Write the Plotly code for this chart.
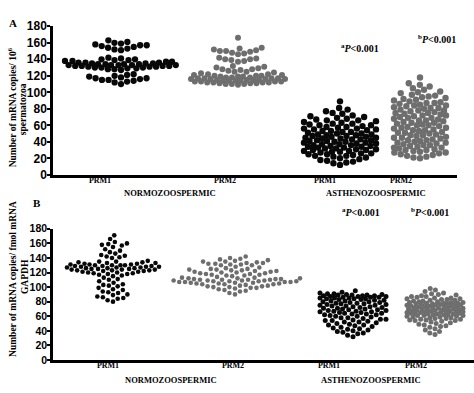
import math
import plotly.graph_objects as go

# ---------------- data ----------------
groups = ["PRM1", "PRM2", "PRM1", "PRM2"]
conditions = ["NORMOZOOSPERMIC", "ASTHENOZOOSPERMIC"]
y_ticks = [0, 20, 40, 60, 80, 100, 120, 140, 160, 180]
p_labels = ["<sup>a</sup><i>P</i>&lt;0.001", "<sup>b</sup><i>P</i>&lt;0.001"]

# Panel A: copies / 10^6 spermatozoa
a_normo_prm1 = [163, 161, 160, 159, 158, 157, 157, 156, 155, 154, 153, 152, 151,
                142, 141, 140, 140, 139, 139, 138, 138, 137, 137, 136, 136, 136, 135, 135,
                135, 134, 134, 134, 134, 133, 133, 133, 133, 133, 132, 132, 132, 132, 131,
                131, 131, 130, 130, 130, 129, 129, 128, 128, 127,
                122, 121, 120, 119, 118, 117, 117, 116, 115, 115, 114, 113, 112, 110]
a_normo_prm2 = [166,
                154, 153, 152, 151, 150, 150, 149, 148, 147, 146,
                142, 141, 140, 140, 139, 138, 137,
                132, 131, 130, 129, 128, 128, 127, 126, 125, 125, 124, 123, 122, 122, 121, 121,
                120, 120, 120, 119, 119, 119, 118, 118, 118, 117, 117, 117, 117, 116, 116,
                116, 116, 115, 115, 115, 115, 114, 114, 114, 114, 113, 113, 113, 113, 112,
                112, 112, 112, 111, 111, 111, 110, 110, 110, 109]
a_astheno_prm1 = [89, 81, 79, 77, 75, 74, 72, 71, 70, 69, 68, 67, 66, 66, 65, 64, 63, 62,
                  62, 61, 60, 60, 59, 58, 58, 57, 56, 56, 55, 55, 54, 53, 53, 52, 52, 51,
                  50, 50, 49, 49, 48, 48, 47, 47, 46, 46, 45, 45, 44, 44, 43, 43, 42, 42,
                  41, 41, 40, 40, 39, 39, 38, 38, 37, 37, 36, 36, 35, 35, 34, 34, 33, 33,
                  32, 32, 31, 31, 30, 30, 29, 29, 28, 28, 27, 26, 26, 25, 25, 24, 23, 23,
                  22, 21, 20, 19, 18, 17, 16, 15, 14, 12]
a_astheno_prm2 = [118, 111, 109, 107, 105, 103, 101, 100, 99, 97, 96, 95, 94, 93, 92, 91,
                  90, 89, 88, 87, 87, 86, 85, 84, 84, 83, 82, 81, 81, 80, 79, 78, 78, 77,
                  76, 75, 75, 74, 73, 72, 72, 71, 70, 69, 69, 68, 67, 66, 66, 65, 64, 63,
                  63, 62, 61, 60, 60, 59, 58, 57, 57, 56, 55, 54, 54, 53, 52, 51, 51, 50,
                  49, 48, 48, 47, 46, 45, 45, 44, 43, 42, 42, 41, 40, 39, 39, 38, 37, 36,
                  36, 35, 34, 33, 33, 32, 31, 30, 30, 29, 28, 27, 27, 26, 25, 24, 23, 22,
                  21, 20]

# Panel B: copies / fmol GAPDH mRNA
b_normo_prm1 = [181, 171, 166, 162, 160, 159, 158, 157, 155, 152, 150, 148, 146, 144, 143,
                142, 141, 140,
                136, 135, 135, 134, 134, 133, 133, 132, 132, 131, 131, 131, 130, 130, 130,
                130, 129, 129, 129, 128, 128, 128, 127, 127, 127, 126, 126, 126, 125, 125,
                125, 124, 124, 124, 123, 123, 123, 122, 122, 121, 121, 120, 120, 119, 119,
                118, 118, 117, 116, 115,
                113, 111, 110, 108, 106, 104, 103, 102, 101, 99, 97, 96, 94, 93, 92, 90,
                89, 87, 86, 85, 84, 82, 80]
b_normo_prm2 = [142, 140, 139, 138, 137, 136, 135, 135, 134, 133, 133, 132, 132, 131, 131,
                130, 130,
                128, 127, 126, 125, 125, 124, 124, 123, 123, 122, 122, 121, 121, 120, 120,
                119, 119, 118, 118, 117, 117, 116, 116, 115,
                114, 113, 113, 112, 112, 112, 111, 111, 111, 110, 110, 110, 110, 109, 109,
                109, 109, 108, 108, 108, 108, 107, 107, 107, 107, 106, 106, 106, 105, 105,
                105, 104, 104, 104,
                103, 102, 102, 101, 101, 100, 100, 99, 99, 98, 97, 96, 95, 94, 92, 90]
b_astheno_prm1 = [95, 93, 92, 91, 91, 90, 90, 89, 89, 89, 88, 88, 88, 87, 87, 87,
                  86, 86, 86, 85, 85, 85, 84, 84, 84, 83, 83, 82, 82, 81, 81,
                  80, 80, 79, 79, 78, 78, 77, 77, 76, 76, 75, 75,
                  74, 74, 73, 73, 72, 72, 71, 71, 70, 70, 69, 69, 68, 68, 67, 67,
                  66, 66, 65, 65, 64, 64, 63, 63, 62, 62, 61, 60, 60, 59, 58, 58,
                  57, 56, 56, 55, 54, 54, 53, 52, 52, 51, 50, 49, 48, 48,
                  47, 46, 45, 44, 43, 42, 41, 40, 39, 38, 37, 36, 34, 32]
b_astheno_prm2 = [98, 96, 94, 92, 91, 90, 89, 88, 87, 87, 86, 85, 85, 84, 84, 83, 83,
                  82, 82, 81, 81, 80, 80, 79, 79, 79, 78, 78, 78, 77, 77, 77,
                  76, 76, 76, 75, 75, 75, 74, 74, 74, 73, 73, 73, 72, 72, 72, 71, 71, 71,
                  70, 70, 70, 69, 69, 69, 68, 68, 68, 67, 67, 67, 66, 66, 66, 65, 65, 65,
                  64, 64, 64, 63, 63, 63, 62, 62, 62, 61, 61, 61, 60, 60, 59, 59,
                  58, 58, 57, 57, 56, 56, 55, 55, 54, 54, 53, 52, 51, 50, 49, 48,
                  47, 46, 45, 43, 41, 39, 37, 35]

# ---------------- layout helpers ----------------
W, H = 474, 393
BLACK = "#080808"
GRAY = "#6e6e6e"
SERIF = "Liberation Serif"
SANS = "Liberation Sans"

# pixel geometry of the two panels
A_Y0, A_Y180 = 174, 20
B_Y0, B_Y180 = 366, 230
A_SCALE = (A_Y0 - A_Y180) / 180.0
B_SCALE = (B_Y0 - B_Y180) / 180.0


def px(x):
    return x / W


def py(y):
    return 1 - y / H


def swarm(vals, scale, d, cap):
    """Capped beeswarm: horizontal pixel offsets; dots avoid each other while
    room is left inside +-cap, otherwise take the least-crowded spot."""
    order = sorted(range(len(vals)), key=lambda i: vals[i])
    placed = []
    offs = [0.0] * len(vals)
    grid = [-cap + 0.5 * i for i in range(int(4 * cap) + 1)]
    for k, idx in enumerate(order):
        y = vals[idx] * scale
        near = [(xj, yj) for xj, yj in placed if abs(yj - y) < d]
        cands = [0.0]
        for xj, yj in near:
            dx = math.sqrt(max(d * d - (yj - y) ** 2, 0.0))
            cands += [xj + dx, xj - dx]
        cands = [c for c in cands if abs(c) <= cap]
        sign = 1 if k % 2 else -1
        cands.sort(key=lambda c: (round(abs(c), 6), sign * c))
        chosen = None
        for c in cands:
            if all((c - xj) ** 2 + (y - yj) ** 2 >= d * d - 1e-6 for xj, yj in near):
                chosen = c
                break
        if chosen is None:
            best = -1.0
            for c in grid:
                m = min((c - xj) ** 2 + (y - yj) ** 2 for xj, yj in near)
                if m > best + 1e-9:
                    best, chosen = m, c
        placed.append((chosen, y))
        offs[idx] = chosen
    return offs


fig = go.Figure()

panels = [
    # (values, xaxis, yaxis, centre(px), spacing(px), half-width(px), colour, size, scale)
    (a_normo_prm1, "x", "y", 121, 6.6, 56, BLACK, 6.3, A_SCALE),
    (a_normo_prm2, "x", "y", 238, 6.2, 47, GRAY, 6.0, A_SCALE),
    (a_astheno_prm1, "x", "y", 340, 6.8, 36, BLACK, 6.4, A_SCALE),
    (a_astheno_prm2, "x", "y", 420, 6.6, 26, GRAY, 6.4, A_SCALE),
    (b_normo_prm1, "x2", "y2", 113, 5.6, 46, BLACK, 4.6, B_SCALE),
    (b_normo_prm2, "x2", "y2", 235, 5.8, 65, GRAY, 4.6, B_SCALE),
    (b_astheno_prm1, "x2", "y2", 353, 5.6, 33, BLACK, 5.0, B_SCALE),
    (b_astheno_prm2, "x2", "y2", 435, 5.4, 28, GRAY, 5.0, B_SCALE),
]

for vals, xa, ya, cx, d, cap, col, ms, sc in panels:
    offs = swarm(vals, sc, d, cap)
    fig.add_trace(go.Scatter(
        x=[cx + o for o in offs], y=vals, xaxis=xa, yaxis=ya, mode="markers",
        marker=dict(color=col, size=ms, line=dict(width=0)),
        hoverinfo="skip", showlegend=False, cliponaxis=False,
    ))

axis_common = dict(showline=True, linecolor="black", linewidth=2.5,
                   showgrid=False, zeroline=False, mirror=False)

fig.update_layout(
    width=W, height=H, margin=dict(l=0, r=0, t=0, b=0),
    paper_bgcolor="white", plot_bgcolor="white",
    xaxis=dict(domain=[px(53), px(457)], range=[53, 457], anchor="y",
               tickvals=[100, 225, 325, 401], ticktext=groups, ticks="",
               ticklabelstandoff=-4,
               tickfont=dict(family=SERIF, size=8, color="black", weight="bold"),
               **axis_common),
    yaxis=dict(domain=[py(A_Y0), py(A_Y180)], range=[0, 180], anchor="x",
               tickvals=y_ticks, ticks="outside", ticklen=3, tickwidth=2,
               tickcolor="black", ticklabelstandoff=-2,
               tickfont=dict(family=SANS, size=12, color="black", weight="bold"),
               **axis_common),
    xaxis2=dict(domain=[px(53), 1], range=[53, 474], anchor="y2",
                tickvals=[108, 233, 329, 416], ticktext=groups, ticks="",
                ticklabelstandoff=-4,
                tickfont=dict(family=SERIF, size=8, color="black", weight="bold"),
                **axis_common),
    yaxis2=dict(domain=[py(B_Y0), py(B_Y180)], range=[0, 180], anchor="x2",
                tickvals=y_ticks, ticks="outside", ticklen=3, tickwidth=2,
                tickcolor="black", ticklabelstandoff=-2,
                tickfont=dict(family=SANS, size=10.5, color="black", weight="bold"),
                **axis_common),
)


def ann(text, x, y, size, angle=0, family=SERIF):
    fig.add_annotation(text=text, x=px(x), y=py(y), xref="paper", yref="paper",
                       showarrow=False, textangle=angle, align="center",
                       xanchor="center", yanchor="middle",
                       font=dict(family=family, size=size, color="black", weight="bold"))


ann("A", 13, 17, 11)
ann("B", 37, 203, 11)
ann("Number of mRNA copies/ 10<sup>6</sup>", 12, 104, 9.5, -90)
ann("spermatozoa", 23, 106, 9.5, -90)
ann("Number of mRNA copies/ fmol mRNA", 13, 282, 9.5, -90)
ann("GAPDH", 25, 280, 9.5, -90)
ann(conditions[0], 170, 193, 8.5)
ann(conditions[1], 376, 193, 8.5)
ann(conditions[0], 171, 387, 8.5)
ann(conditions[1], 371, 387, 8.5)
ann(p_labels[0], 360, 43, 10)
ann(p_labels[1], 437, 33, 10)
ann(p_labels[0], 361, 213, 10)
ann(p_labels[1], 430, 213, 10)

fig.write_html("out.html", config={"displayModeBar": False},
               post_script="document.body.style.margin='0px';")
